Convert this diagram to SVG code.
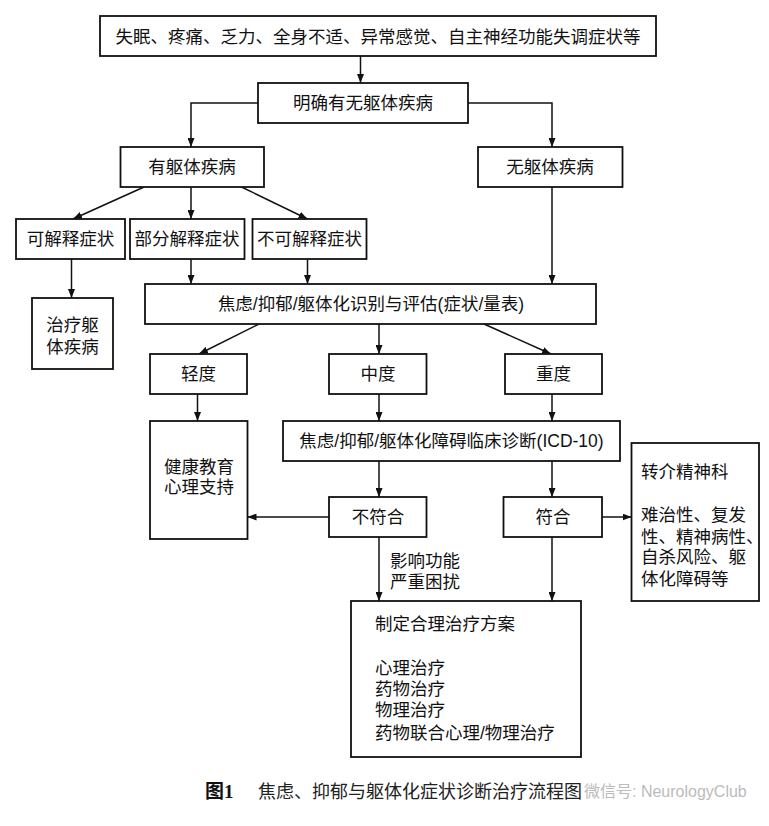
<svg xmlns="http://www.w3.org/2000/svg" width="769" height="826" viewBox="0 0 769 826" lang="zh-CN">
<defs>
<marker id="ah" markerWidth="9" markerHeight="7" refX="9" refY="3.5" orient="auto" markerUnits="userSpaceOnUse">
<path d="M0,0 L9,3.5 L0,7 z" fill="#111"/>
</marker>
<style>
.b{fill:#fff;stroke:#111;stroke-width:1.8}
.t{font-family:"Liberation Sans","Noto Sans CJK SC",sans-serif;font-size:17.5px;fill:#111;text-anchor:middle;dominant-baseline:central}
.l{font-family:"Liberation Sans","Noto Sans CJK SC",sans-serif;font-size:17.5px;fill:#111;dominant-baseline:central}
.c{fill:none;stroke:#111;stroke-width:1.5;marker-end:url(#ah)}
</style>
</defs>
<rect width="769" height="826" fill="#fff"/>
<g id="connectors">
<path class="c" d="M360.5,56 V83"/>
<path class="c" d="M258,103 H191 V147"/>
<path class="c" d="M468,103 H552 V147"/>
<path class="c" d="M144,187 L73,219"/>
<path class="c" d="M191,187 V219"/>
<path class="c" d="M241.5,187 L307.5,219"/>
<path class="c" d="M71.5,259 V298"/>
<path class="c" d="M191,259 V284"/>
<path class="c" d="M307.5,259 V284"/>
<path class="c" d="M552,187 V284"/>
<path class="c" d="M259,324 L199,354"/>
<path class="c" d="M379,324 V354"/>
<path class="c" d="M484,324 L551,354"/>
<path class="c" d="M197.5,394 V421"/>
<path class="c" d="M379,394 V421"/>
<path class="c" d="M552,394 V421"/>
<path class="c" d="M379,461 V497"/>
<path class="c" d="M552,461 V497"/>
<path class="c" d="M329,517 H247.5"/>
<path class="c" d="M602,517 H631.5"/>
<path class="c" d="M379,537 V601"/>
<path class="c" d="M552,537 V601"/>
<text class="l" x="390" y="561">影响功能<tspan x="390" dy="21">严重困扰</tspan></text>
</g>
<g id="n1"><rect class="b" x="100" y="16" width="556" height="40"/><text class="t" x="378" y="37">失眠、疼痛、乏力、全身不适、异常感觉、自主神经功能失调症状等</text></g>
<g id="n2"><rect class="b" x="258" y="83" width="210" height="40"/><text class="t" x="363" y="103">明确有无躯体疾病</text></g>
<g id="n3"><rect class="b" x="120.5" y="147" width="143.5" height="40"/><text class="t" x="192" y="167">有躯体疾病</text></g>
<g id="n4"><rect class="b" x="478" y="147" width="144.5" height="40"/><text class="t" x="550" y="167">无躯体疾病</text></g>
<g id="n5"><rect class="b" x="16" y="219" width="109" height="40"/><text class="t" x="70.5" y="239">可解释症状</text></g>
<g id="n6"><rect class="b" x="130" y="219" width="114.5" height="40"/><text class="t" x="187" y="239">部分解释症状</text></g>
<g id="n7"><rect class="b" x="252.5" y="219" width="114" height="40"/><text class="t" x="309.5" y="239">不可解释症状</text></g>
<g id="n8"><rect class="b" x="32" y="298" width="81" height="71"/><text class="t" x="72.5" y="325">治疗躯<tspan x="72.5" dy="22">体疾病</tspan></text></g>
<g id="n9"><rect class="b" x="145" y="284" width="451" height="40"/><text class="t" x="371" y="304">焦虑/抑郁/躯体化识别与评估(症状/量表)</text></g>
<g id="n10"><rect class="b" x="150" y="354" width="97" height="40"/><text class="t" x="198.5" y="374">轻度</text></g>
<g id="n11"><rect class="b" x="329" y="354" width="97.5" height="40"/><text class="t" x="378" y="374">中度</text></g>
<g id="n12"><rect class="b" x="505" y="354" width="97" height="40"/><text class="t" x="553.5" y="374">重度</text></g>
<g id="n13"><rect class="b" x="150" y="421" width="97.5" height="118"/><text class="t" x="199" y="467">健康教育<tspan x="199" dy="20">心理支持</tspan></text></g>
<g id="n14"><rect class="b" x="283" y="421" width="337" height="40"/><text class="t" x="451.5" y="441">焦虑/抑郁/躯体化障碍临床诊断(ICD-10)</text></g>
<g id="n15"><rect class="b" x="329" y="497" width="97.5" height="40"/><text class="t" x="378" y="517">不符合</text></g>
<g id="n16"><rect class="b" x="503.5" y="497" width="98.5" height="40"/><text class="t" x="553" y="517">符合</text></g>
<g id="n17"><rect class="b" x="631.5" y="443" width="127.5" height="158"/>
<text class="l" x="641" y="472">转介精神科<tspan x="641" dy="43">难治性、复发</tspan><tspan x="641" dy="22">性、精神病性、</tspan><tspan x="641" dy="20">自杀风险、躯</tspan><tspan x="641" dy="22">体化障碍等</tspan></text></g>
<g id="n18"><rect class="b" x="351" y="601" width="230" height="156"/>
<text class="l" x="375" y="624">制定合理治疗方案<tspan x="375" dy="44">心理治疗</tspan><tspan x="375" dy="21">药物治疗</tspan><tspan x="375" dy="21">物理治疗</tspan><tspan x="375" dy="23">药物联合心理/物理治疗</tspan></text></g>
<g id="caption">
<text x="205" y="798" font-family="'Liberation Serif','Noto Sans CJK SC',serif" font-weight="bold" font-size="19" fill="#111">图1</text>
<text x="258" y="798" font-family="'Liberation Sans','Noto Sans CJK SC',sans-serif" font-size="18" fill="#222">焦虑、抑郁与躯体化症状诊断治疗流程图</text>
<text x="584" y="797" font-family="'Liberation Sans','Noto Sans CJK SC',sans-serif" font-size="16" fill="#bbb">微信号: NeurologyClub</text>
</g>
</svg>
